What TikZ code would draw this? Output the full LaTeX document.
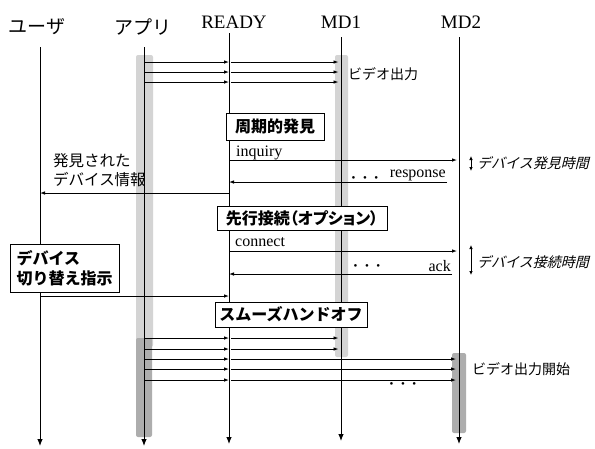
\documentclass[tikz,border=0pt]{standalone}
\usepackage{fontspec}
\setmainfont{Liberation Serif}
\newfontfamily\jp{Noto Sans CJK JP}
\newfontfamily\jpp{Noto Sans CJK JP}[RawFeature=+palt]
\newfontfamily\jpsl{Noto Sans CJK JP}[FakeSlant=0.25]
\usetikzlibrary{arrows.meta}
\begin{document}
\begin{tikzpicture}[x=1pt,y=-1pt,
  life/.style={line width=0.9pt,-{Latex[length=7pt,width=5.5pt]}},
  msg/.style={line width=0.9pt,-{Latex[length=5pt,width=3.6pt]}},
  dbl/.style={line width=0.9pt,{Latex[length=4pt,width=3.6pt]}-{Latex[length=4pt,width=3.6pt]}},
  hdrJ/.style={font=\jp\fontsize{19}{21}\selectfont,inner sep=0},
  hdrE/.style={font=\fontsize{19}{21}\selectfont,inner sep=0},
  phase/.style={draw,line width=0.9pt,fill=white,font=\jp\bfseries\fontsize{16}{20}\selectfont,inner sep=0},
  lbl/.style={font=\fontsize{16}{18}\selectfont,inner sep=0},
  note/.style={font=\jp\fontsize{14}{16}\selectfont,inner sep=0,anchor=west},
  slnote/.style={font=\jpsl\fontsize{14}{16}\selectfont,inner sep=0,anchor=west},
  dots/.style={font=\fontsize{11}{11}\selectfont,inner sep=0},
  lightbar/.style={fill=black!17,rounded corners=2pt},
  darkbar/.style={fill=black!32,rounded corners=2pt}]
\useasboundingbox (0,0) rectangle (595,448);
\fill[white] (0,0) rectangle (595,448);

% activation bars
\fill[lightbar] (136,55) rectangle (153,347);
\fill[darkbar] (136,338) rectangle (152,437);
\fill[lightbar] (335,55) rectangle (348,357);
\fill[darkbar] (452,353) rectangle (466,433);

% headers
\node[hdrJ] (user) at (37,27) {ユーザ};
\node[hdrJ] (app) at (143,27) {アプリ};
\node[hdrE] (ready) at (234,22) {READY};
\node[hdrE] (md1) at (341,22) {MD1};
\node[hdrE] (md2) at (461,22) {MD2};

% lifelines
\coordinate (uT) at (40,47);   \coordinate (uB) at (40,446);
\coordinate (aT) at (144,47);  \coordinate (aB) at (144,446);
\coordinate (rT) at (229,33);  \coordinate (rB) at (229,444);
\coordinate (m1T) at (341,37); \coordinate (m1B) at (341,441);
\coordinate (m2T) at (459,37); \coordinate (m2B) at (459,444);
\draw[life] (uT) -- (uB);
\draw[life] (aT) -- (aB);
\draw[life] (rT) -- (rB);
\draw[life] (m1T) -- (m1B);
\draw[life] (m2T) -- (m2B);

% video output (top)
\foreach \y in {62,72,82}{
  \draw[msg] (aT |- 0,\y) -- (rT |- 0,\y);
  \draw[msg] ([xshift=2pt]rT |- 0,\y) -- ([xshift=-2.5pt]m1T |- 0,\y);
}
\node[note] (vout) at (348,74) {ビデオ出力};

% periodic discovery
\node[phase,minimum width=98pt,minimum height=27pt] (disc) at (275,126.5) {周期的発見};
\node[lbl,anchor=base west] (inq) at (236,156) {inquiry};
\draw[msg] (rT |- 0,160) -- ([xshift=-2pt]m2T |- 0,160);
\coordinate (respS) at (447,182);
\draw[msg] (respS) -- (rT |- respS);
\node[lbl,anchor=base east] (resp) at (446,177.5) {response};
\node[dots] (d1) at (365,179) {•\hspace{7.5pt}•\hspace{7.5pt}•};
\draw[dbl] (471,156) -- (471,171);
\node[slnote] (disctime) at (477,163) {デバイス発見時間};
\draw[msg] (rT |- 0,193) -- (uT |- 0,193);
\node[font=\jp\fontsize{15.5}{19}\selectfont,inner sep=0,anchor=west,align=left] (found) at (53,170) {発見された\\デバイス情報};

% pre-connection
\node[phase,font=\jpp\bfseries\fontsize{16}{20}\selectfont,minimum width=170pt,minimum height=24pt] (preconn) at (302,218) {先行接続（オプション）};
\node[lbl,anchor=base west] (conn) at (235,246.5) {connect};
\draw[msg] (rT |- 0,251) -- ([xshift=-2pt]m2T |- 0,251);
\coordinate (ackS) at (452,274);
\draw[msg] (ackS) -- (rT |- ackS);
\node[lbl,anchor=base east] (ack) at (451,271.5) {ack};
\node[dots] (d2) at (367,267) {•\hspace{7.5pt}•\hspace{7.5pt}•};
\draw[dbl] (471,245) -- (471,275);
\node[slnote] (conntime) at (477,262) {デバイス接続時間};

% switch instruction
\node[phase,minimum width=109pt,minimum height=48pt,align=left] (switch) at (64.5,268) {デバイス\\切り替え指示};
\draw[msg] (uT |- 0,296) -- (rT |- 0,296);

% smooth handoff
\node[phase,minimum width=152pt,minimum height=25pt] (handoff) at (291,314.5) {スムーズハンドオフ};
\foreach \y in {338,349}{
  \draw[msg] (aT |- 0,\y) -- (rT |- 0,\y);
  \draw[msg] ([xshift=2pt]rT |- 0,\y) -- ([xshift=-2.5pt]m1T |- 0,\y);
}
\foreach \y in {359,369,380}{
  \draw[msg] (aT |- 0,\y) -- (rT |- 0,\y);
  \draw[msg] ([xshift=2pt]rT |- 0,\y) -- ([xshift=-3pt]m2T |- 0,\y);
}
\node[dots] (d3) at (403,385) {•\hspace{7.5pt}•\hspace{7.5pt}•};
\node[note] (vstart) at (472,369) {ビデオ出力開始};
\end{tikzpicture}
\end{document}
